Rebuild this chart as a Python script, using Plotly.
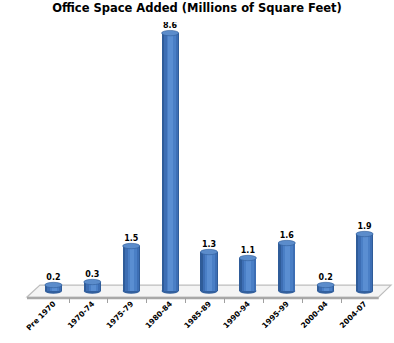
import plotly.graph_objects as go

# Office space added per period, millions of square feet
periods = ["Pre 1970", "1970-74", "1975-79", "1980-84", "1985-89",
           "1990-94", "1995-99", "2000-04", "2004-07"]
space_added = [0.2, 0.3, 1.5, 8.6, 1.3, 1.1, 1.6, 0.2, 1.9]
value_labels = ["0.2", "0.3", "1.5", "8.6", "1.3", "1.1", "1.6", "0.2", "1.9"]

xs = list(range(len(periods)))
bar_w = 0.44
cap = 0.09  # half-height of the elliptical cylinder caps, in y units

fig = go.Figure()

# cylinder body: stacked overlays from dark rim to light core
layers = [
    (bar_w, 0.0, "#2F5C99"),
    (bar_w * 0.82, 0.02, "#3D6EB4"),
    (bar_w * 0.55, 0.03, "#4A7FC6"),
    (bar_w * 0.28, 0.02, "#5A8ED2"),
]
for w, shift, col in layers:
    fig.add_trace(go.Bar(
        x=[x + shift for x in xs], y=space_added, width=w,
        marker=dict(color=col, line=dict(width=0)),
        hoverinfo="skip", showlegend=False,
    ))

shapes = []
# floor of the 3D plot area
shapes.append(dict(type="path", xref="paper", yref="paper",
                   path="M -0.02 0 L 0.985 0 L 1.02 0.043 L 0.017 0.043 Z",
                   fillcolor="#F4F4F4", line=dict(color="#BDBDBD", width=1.2),
                   layer="below"))
shapes.append(dict(type="path", xref="paper", yref="paper",
                   path="M -0.02 0 L 0.985 0 L 0.985 -0.008 L -0.02 -0.008 Z",
                   fillcolor="#A8A8A8", line=dict(width=0), layer="below"))

# elliptical caps and bottoms of each cylinder
for x, v in zip(xs, space_added):
    shapes.append(dict(type="circle", xref="x", yref="y",
                       x0=x - bar_w / 2, x1=x + bar_w / 2,
                       y0=-cap, y1=cap,
                       fillcolor="#33609E", line=dict(width=0), layer="below"))
    shapes.append(dict(type="circle", xref="x", yref="y",
                       x0=x - bar_w / 2, x1=x + bar_w / 2,
                       y0=v - cap, y1=v + cap,
                       fillcolor="#5B8CCB", line=dict(color="#2F5C99", width=0.6)))

# value labels above each cylinder
fig.add_trace(go.Scatter(
    x=xs, y=[v + cap for v in space_added], mode="text",
    text=["<b>%s</b>" % t for t in value_labels], textposition="top center",
    textfont=dict(family="DejaVu Sans", size=8, color="#000000"),
    hoverinfo="skip", showlegend=False,
))

fig.update_layout(
    width=394, height=343,
    margin=dict(l=34, r=10, t=22, b=44),
    barmode="overlay", bargap=0,
    plot_bgcolor="white", paper_bgcolor="white",
    shapes=shapes,
    title=dict(text="<b>Office Space Added (Millions of Square Feet)</b>",
               x=0.5, xanchor="center", yref="container", y=0.988, yanchor="top",
               font=dict(family="DejaVu Sans", size=11.5, color="#000000")),
    xaxis=dict(range=[-0.5, 8.5], tickmode="array", tickvals=xs,
               ticktext=["<b>%s</b>" % p for p in periods],
               tickangle=-45, ticks="", showgrid=False, zeroline=False,
               showline=False,
               tickfont=dict(family="DejaVu Sans", size=7.5, color="#000000"),
               minor=dict(tickmode="array", tickvals=[x + 0.4 for x in xs[:-1]],
                          ticks="outside", ticklen=5, tickcolor="#A0A0A0")),
    yaxis=dict(range=[-0.2, 8.97], visible=False),
)

fig.write_html("out.html")
